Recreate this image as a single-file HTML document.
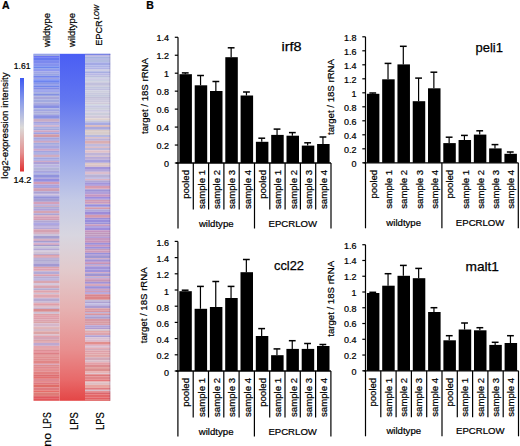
<!DOCTYPE html>
<html><head><meta charset="utf-8"><title>Figure</title>
<style>html,body{margin:0;padding:0;background:#fff;width:520px;height:446px;overflow:hidden}
svg{display:block;font-family:"Liberation Sans", sans-serif} text{stroke:#000;stroke-width:0.22px}</style></head>
<body><svg width="520" height="446" viewBox="0 0 520 446" font-family='"Liberation Sans", sans-serif'><defs><linearGradient id="cb" x1="0" y1="0" x2="0" y2="1"><stop offset="0" stop-color="#3c58f2"/><stop offset="0.25" stop-color="#8a9cea"/><stop offset="0.53" stop-color="#dcdad8"/><stop offset="0.8" stop-color="#e49090"/><stop offset="1" stop-color="#e03030"/></linearGradient><linearGradient id="hm2" x1="0" y1="0" x2="0" y2="1"><stop offset="0.0006" stop-color="#4a5ef4"/><stop offset="0.1331" stop-color="#6276f0"/><stop offset="0.2772" stop-color="#94a2ea"/><stop offset="0.4213" stop-color="#c4cae6"/><stop offset="0.5222" stop-color="#d8d6e0"/><stop offset="0.6231" stop-color="#e2cacc"/><stop offset="0.7383" stop-color="#e6b0b0"/><stop offset="0.8536" stop-color="#e88e8e"/><stop offset="0.9401" stop-color="#e86969"/><stop offset="1.0006" stop-color="#e44646"/></linearGradient><filter id="bl" x="0" y="0" width="1" height="1"><feGaussianBlur stdDeviation="0 0.6"/></filter></defs><rect width="520" height="446" fill="#fff"/><text x="2.00" y="9.30" font-size="10.5" font-weight="bold">A</text>
<text transform="translate(50.00,13.00) rotate(-90)" font-size="9.6" text-anchor="end" textLength="34.0" lengthAdjust="spacingAndGlyphs">wildtype</text>
<text transform="translate(75.30,13.00) rotate(-90)" font-size="9.6" text-anchor="end" textLength="34.0" lengthAdjust="spacingAndGlyphs">wildtype</text>
<text transform="translate(102.40,20.30) rotate(-90)" font-size="9.6" text-anchor="end" textLength="25.5" lengthAdjust="spacingAndGlyphs">EPCR</text>
<text transform="translate(99.40,5.00) rotate(-90)" font-size="7.0" text-anchor="end" textLength="14.6" lengthAdjust="spacingAndGlyphs" font-style="italic">LOW</text>
<text transform="translate(7.90,178.70) rotate(-90)" font-size="9.6" textLength="106.3" lengthAdjust="spacingAndGlyphs">log2-expression intensity</text>
<text x="13.80" y="68.80" font-size="9.2" textLength="16.7" lengthAdjust="spacingAndGlyphs">1.61</text>
<text x="13.60" y="182.80" font-size="9.2" textLength="17.7" lengthAdjust="spacingAndGlyphs">14.2</text>
<text transform="translate(50.80,412.30) rotate(-90)" font-size="10.3" text-anchor="end" textLength="16.1" lengthAdjust="spacingAndGlyphs">LPS</text>
<text transform="translate(50.80,432.90) rotate(-90)" font-size="10.3" text-anchor="end" textLength="13.8" lengthAdjust="spacingAndGlyphs">no</text>
<text transform="translate(77.70,412.20) rotate(-90)" font-size="10.3" text-anchor="end" textLength="17.7" lengthAdjust="spacingAndGlyphs">LPS</text>
<text transform="translate(104.30,412.20) rotate(-90)" font-size="10.3" text-anchor="end" textLength="17.7" lengthAdjust="spacingAndGlyphs">LPS</text>
<rect x="20.00" y="78.00" width="4.00" height="93.50" fill="url(#cb)"/>
<rect x="59.50" y="53.80" width="25.50" height="347.00" fill="url(#hm2)"/>
<g filter="url(#bl)">
<rect x="33.50" y="53.80" width="26.00" height="1.02" fill="#6676f7"/>
<rect x="33.50" y="54.80" width="26.00" height="3.02" fill="#6b75f4"/>
<rect x="33.50" y="57.80" width="26.00" height="3.02" fill="#6679ef"/>
<rect x="33.50" y="60.80" width="26.00" height="3.02" fill="#7b89ee"/>
<rect x="33.50" y="63.80" width="26.00" height="2.52" fill="#8592ee"/>
<rect x="33.50" y="66.30" width="26.00" height="2.02" fill="#6c86ee"/>
<rect x="33.50" y="68.30" width="26.00" height="1.02" fill="#8296e4"/>
<rect x="33.50" y="69.30" width="26.00" height="1.02" fill="#6f81ec"/>
<rect x="33.50" y="70.30" width="26.00" height="1.02" fill="#747dec"/>
<rect x="33.50" y="71.30" width="26.00" height="2.52" fill="#a0a6e5"/>
<rect x="33.50" y="73.80" width="26.00" height="2.02" fill="#98a4e3"/>
<rect x="33.50" y="75.80" width="26.00" height="2.02" fill="#7586ee"/>
<rect x="33.50" y="77.80" width="26.00" height="1.52" fill="#9ca2e2"/>
<rect x="33.50" y="79.30" width="26.00" height="1.52" fill="#6d85f4"/>
<rect x="33.50" y="80.80" width="26.00" height="2.02" fill="#6d84ef"/>
<rect x="33.50" y="82.80" width="26.00" height="2.02" fill="#8996e5"/>
<rect x="33.50" y="84.80" width="26.00" height="1.02" fill="#8d94eb"/>
<rect x="33.50" y="85.80" width="26.00" height="1.52" fill="#7088eb"/>
<rect x="33.50" y="87.30" width="26.00" height="2.02" fill="#848ce5"/>
<rect x="33.50" y="89.30" width="26.00" height="1.02" fill="#8890e2"/>
<rect x="33.50" y="90.30" width="26.00" height="1.52" fill="#8a94eb"/>
<rect x="33.50" y="91.80" width="26.00" height="1.02" fill="#a0a6e3"/>
<rect x="33.50" y="92.80" width="26.00" height="1.02" fill="#9fa8db"/>
<rect x="33.50" y="93.80" width="26.00" height="2.02" fill="#8390e2"/>
<rect x="33.50" y="95.80" width="26.00" height="1.02" fill="#b1b0da"/>
<rect x="33.50" y="96.80" width="26.00" height="2.52" fill="#a7a6da"/>
<rect x="33.50" y="99.30" width="26.00" height="3.02" fill="#a2aadf"/>
<rect x="33.50" y="102.30" width="26.00" height="2.02" fill="#aaaadc"/>
<rect x="33.50" y="104.30" width="26.00" height="1.52" fill="#898cdb"/>
<rect x="33.50" y="105.80" width="26.00" height="2.52" fill="#888fe3"/>
<rect x="33.50" y="108.30" width="26.00" height="2.02" fill="#a9afdf"/>
<rect x="33.50" y="110.30" width="26.00" height="1.02" fill="#838ada"/>
<rect x="33.50" y="111.30" width="26.00" height="2.02" fill="#adadda"/>
<rect x="33.50" y="113.30" width="26.00" height="1.52" fill="#a6acd9"/>
<rect x="33.50" y="114.80" width="26.00" height="1.02" fill="#8b8be1"/>
<rect x="33.50" y="115.80" width="26.00" height="3.02" fill="#8a92e1"/>
<rect x="33.50" y="118.80" width="26.00" height="3.02" fill="#c7abc4"/>
<rect x="33.50" y="121.80" width="26.00" height="2.02" fill="#a4a2e0"/>
<rect x="33.50" y="123.80" width="26.00" height="1.52" fill="#b3b1e1"/>
<rect x="33.50" y="125.30" width="26.00" height="1.52" fill="#cca7c5"/>
<rect x="33.50" y="126.80" width="26.00" height="2.02" fill="#a9afe0"/>
<rect x="33.50" y="128.80" width="26.00" height="1.52" fill="#a4a7db"/>
<rect x="33.50" y="130.30" width="26.00" height="2.02" fill="#cea6c3"/>
<rect x="33.50" y="132.30" width="26.00" height="2.02" fill="#9fa0e1"/>
<rect x="33.50" y="134.30" width="26.00" height="3.02" fill="#d099a6"/>
<rect x="33.50" y="137.30" width="26.00" height="2.52" fill="#a4a4dd"/>
<rect x="33.50" y="139.80" width="26.00" height="1.02" fill="#a6a0db"/>
<rect x="33.50" y="140.80" width="26.00" height="2.02" fill="#cda7c1"/>
<rect x="33.50" y="142.80" width="26.00" height="2.02" fill="#a1a9df"/>
<rect x="33.50" y="144.80" width="26.00" height="1.02" fill="#aaa3db"/>
<rect x="33.50" y="145.80" width="26.00" height="3.02" fill="#a5a6e0"/>
<rect x="33.50" y="148.80" width="26.00" height="2.02" fill="#cca5c8"/>
<rect x="33.50" y="150.80" width="26.00" height="2.02" fill="#a3a4df"/>
<rect x="33.50" y="152.80" width="26.00" height="1.02" fill="#a1a8df"/>
<rect x="33.50" y="153.80" width="26.00" height="1.02" fill="#a69fdb"/>
<rect x="33.50" y="154.80" width="26.00" height="2.52" fill="#cfacc0"/>
<rect x="33.50" y="157.30" width="26.00" height="2.02" fill="#a2a5df"/>
<rect x="33.50" y="159.30" width="26.00" height="1.52" fill="#9fa4e2"/>
<rect x="33.50" y="160.80" width="26.00" height="1.02" fill="#d09eb9"/>
<rect x="33.50" y="161.80" width="26.00" height="2.52" fill="#aea0d6"/>
<rect x="33.50" y="164.30" width="26.00" height="2.02" fill="#b8b5de"/>
<rect x="33.50" y="166.30" width="26.00" height="1.02" fill="#a89fe0"/>
<rect x="33.50" y="167.30" width="26.00" height="3.02" fill="#b2b4d8"/>
<rect x="33.50" y="170.30" width="26.00" height="2.02" fill="#a9a5db"/>
<rect x="33.50" y="172.30" width="26.00" height="1.02" fill="#9193e1"/>
<rect x="33.50" y="173.30" width="26.00" height="1.52" fill="#a4a7dc"/>
<rect x="33.50" y="174.80" width="26.00" height="3.02" fill="#9092dd"/>
<rect x="33.50" y="177.80" width="26.00" height="1.02" fill="#ada1d6"/>
<rect x="33.50" y="178.80" width="26.00" height="3.02" fill="#948fe1"/>
<rect x="33.50" y="181.80" width="26.00" height="2.52" fill="#d29cb6"/>
<rect x="33.50" y="184.30" width="26.00" height="2.02" fill="#ab9fd9"/>
<rect x="33.50" y="186.30" width="26.00" height="1.52" fill="#9091de"/>
<rect x="33.50" y="187.80" width="26.00" height="1.02" fill="#cc9bb6"/>
<rect x="33.50" y="188.80" width="26.00" height="2.52" fill="#ce9eb3"/>
<rect x="33.50" y="191.30" width="26.00" height="2.02" fill="#aba1d3"/>
<rect x="33.50" y="193.30" width="26.00" height="1.02" fill="#a89dd3"/>
<rect x="33.50" y="194.30" width="26.00" height="1.02" fill="#cabbd9"/>
<rect x="33.50" y="195.30" width="26.00" height="1.02" fill="#aca1d7"/>
<rect x="33.50" y="196.30" width="26.00" height="2.52" fill="#9593d9"/>
<rect x="33.50" y="198.80" width="26.00" height="3.02" fill="#a59ed2"/>
<rect x="33.50" y="201.80" width="26.00" height="2.52" fill="#d4a0ba"/>
<rect x="33.50" y="204.30" width="26.00" height="1.52" fill="#afa4d9"/>
<rect x="33.50" y="205.80" width="26.00" height="1.02" fill="#cd9eb1"/>
<rect x="33.50" y="206.80" width="26.00" height="2.02" fill="#adabd6"/>
<rect x="33.50" y="208.80" width="26.00" height="2.02" fill="#afa1d9"/>
<rect x="33.50" y="210.80" width="26.00" height="2.52" fill="#d5a4b3"/>
<rect x="33.50" y="213.30" width="26.00" height="2.02" fill="#aba3d4"/>
<rect x="33.50" y="215.30" width="26.00" height="1.02" fill="#d5a5b8"/>
<rect x="33.50" y="216.30" width="26.00" height="2.52" fill="#d49eb6"/>
<rect x="33.50" y="218.80" width="26.00" height="1.52" fill="#d29db3"/>
<rect x="33.50" y="220.30" width="26.00" height="2.02" fill="#b1a7d3"/>
<rect x="33.50" y="222.30" width="26.00" height="1.02" fill="#aa9fd6"/>
<rect x="33.50" y="223.30" width="26.00" height="1.52" fill="#9891df"/>
<rect x="33.50" y="224.80" width="26.00" height="1.52" fill="#b5aad8"/>
<rect x="33.50" y="226.30" width="26.00" height="1.02" fill="#b1a2d7"/>
<rect x="33.50" y="227.30" width="26.00" height="2.02" fill="#b5a7d6"/>
<rect x="33.50" y="229.30" width="26.00" height="3.02" fill="#d5a1b1"/>
<rect x="33.50" y="232.30" width="26.00" height="1.52" fill="#ce9fb4"/>
<rect x="33.50" y="233.80" width="26.00" height="2.02" fill="#cdc3d9"/>
<rect x="33.50" y="235.80" width="26.00" height="3.02" fill="#a49dcf"/>
<rect x="33.50" y="238.80" width="26.00" height="1.02" fill="#cfa5b9"/>
<rect x="33.50" y="239.80" width="26.00" height="1.02" fill="#d09eb8"/>
<rect x="33.50" y="240.80" width="26.00" height="1.52" fill="#a49dcf"/>
<rect x="33.50" y="242.30" width="26.00" height="1.02" fill="#b5a5d7"/>
<rect x="33.50" y="243.30" width="26.00" height="1.52" fill="#d39db9"/>
<rect x="33.50" y="244.80" width="26.00" height="1.52" fill="#a59acb"/>
<rect x="33.50" y="246.30" width="26.00" height="2.02" fill="#c8c4d6"/>
<rect x="33.50" y="248.30" width="26.00" height="2.02" fill="#b3a8d5"/>
<rect x="33.50" y="250.30" width="26.00" height="1.02" fill="#cbc0d8"/>
<rect x="33.50" y="251.30" width="26.00" height="2.52" fill="#cfc2d4"/>
<rect x="33.50" y="253.80" width="26.00" height="1.02" fill="#a59bcc"/>
<rect x="33.50" y="254.80" width="26.00" height="2.02" fill="#dca0ab"/>
<rect x="33.50" y="256.80" width="26.00" height="1.02" fill="#d2a0b2"/>
<rect x="33.50" y="257.80" width="26.00" height="1.02" fill="#b1a3d1"/>
<rect x="33.50" y="258.80" width="26.00" height="1.02" fill="#b0a8d1"/>
<rect x="33.50" y="259.80" width="26.00" height="2.02" fill="#b0aad2"/>
<rect x="33.50" y="261.80" width="26.00" height="1.02" fill="#b1a9d1"/>
<rect x="33.50" y="262.80" width="26.00" height="1.02" fill="#b7acd7"/>
<rect x="33.50" y="263.80" width="26.00" height="3.02" fill="#a299d2"/>
<rect x="33.50" y="266.80" width="26.00" height="1.52" fill="#daa2aa"/>
<rect x="33.50" y="268.30" width="26.00" height="2.02" fill="#db9fb2"/>
<rect x="33.50" y="270.30" width="26.00" height="1.02" fill="#d8a1ac"/>
<rect x="33.50" y="271.30" width="26.00" height="3.02" fill="#b3aad6"/>
<rect x="33.50" y="274.30" width="26.00" height="2.02" fill="#d99eaf"/>
<rect x="33.50" y="276.30" width="26.00" height="2.02" fill="#b8abd1"/>
<rect x="33.50" y="278.30" width="26.00" height="1.52" fill="#b3aad8"/>
<rect x="33.50" y="279.80" width="26.00" height="1.02" fill="#b9a8d6"/>
<rect x="33.50" y="280.80" width="26.00" height="2.52" fill="#d9a6b0"/>
<rect x="33.50" y="283.30" width="26.00" height="1.02" fill="#cabdd4"/>
<rect x="33.50" y="284.30" width="26.00" height="1.02" fill="#c9bad4"/>
<rect x="33.50" y="285.30" width="26.00" height="3.02" fill="#d7a4b1"/>
<rect x="33.50" y="288.30" width="26.00" height="2.02" fill="#b4acd0"/>
<rect x="33.50" y="290.30" width="26.00" height="2.52" fill="#dfa4ad"/>
<rect x="33.50" y="292.80" width="26.00" height="1.52" fill="#d0c0d4"/>
<rect x="33.50" y="294.30" width="26.00" height="3.02" fill="#dea6b0"/>
<rect x="33.50" y="297.30" width="26.00" height="1.02" fill="#daa2b0"/>
<rect x="33.50" y="298.30" width="26.00" height="3.02" fill="#b5a9d0"/>
<rect x="33.50" y="301.30" width="26.00" height="1.52" fill="#c1b1d0"/>
<rect x="33.50" y="302.80" width="26.00" height="1.02" fill="#e1a5b1"/>
<rect x="33.50" y="303.80" width="26.00" height="2.02" fill="#de9ea8"/>
<rect x="33.50" y="305.80" width="26.00" height="2.02" fill="#dbbec9"/>
<rect x="33.50" y="307.80" width="26.00" height="1.02" fill="#b8aad1"/>
<rect x="33.50" y="308.80" width="26.00" height="3.02" fill="#d98c8f"/>
<rect x="33.50" y="311.80" width="26.00" height="2.02" fill="#cdc0d4"/>
<rect x="33.50" y="313.80" width="26.00" height="2.02" fill="#de9fa6"/>
<rect x="33.50" y="315.80" width="26.00" height="2.02" fill="#e29fac"/>
<rect x="33.50" y="317.80" width="26.00" height="1.52" fill="#db9fab"/>
<rect x="33.50" y="319.30" width="26.00" height="2.52" fill="#dca2ae"/>
<rect x="33.50" y="321.80" width="26.00" height="1.52" fill="#daa5a6"/>
<rect x="33.50" y="323.30" width="26.00" height="3.02" fill="#d5b6ca"/>
<rect x="33.50" y="326.30" width="26.00" height="1.02" fill="#d9b7c3"/>
<rect x="33.50" y="327.30" width="26.00" height="1.52" fill="#dba3a6"/>
<rect x="33.50" y="328.80" width="26.00" height="2.52" fill="#d5b7c5"/>
<rect x="33.50" y="331.30" width="26.00" height="3.02" fill="#dca4a5"/>
<rect x="33.50" y="334.30" width="26.00" height="1.52" fill="#d6b9c9"/>
<rect x="33.50" y="335.80" width="26.00" height="1.02" fill="#e28f98"/>
<rect x="33.50" y="336.80" width="26.00" height="3.02" fill="#d4a5b7"/>
<rect x="33.50" y="339.80" width="26.00" height="2.02" fill="#daa2a8"/>
<rect x="33.50" y="341.80" width="26.00" height="1.02" fill="#e3a0a3"/>
<rect x="33.50" y="342.80" width="26.00" height="3.02" fill="#bda8d0"/>
<rect x="33.50" y="345.80" width="26.00" height="2.52" fill="#e3a4ac"/>
<rect x="33.50" y="348.30" width="26.00" height="1.02" fill="#de9093"/>
<rect x="33.50" y="349.30" width="26.00" height="2.02" fill="#dd8f95"/>
<rect x="33.50" y="351.30" width="26.00" height="1.02" fill="#e37e8b"/>
<rect x="33.50" y="352.30" width="26.00" height="2.52" fill="#dd8087"/>
<rect x="33.50" y="354.80" width="26.00" height="1.02" fill="#df8f8e"/>
<rect x="33.50" y="355.80" width="26.00" height="1.02" fill="#df8e91"/>
<rect x="33.50" y="356.80" width="26.00" height="2.02" fill="#e29091"/>
<rect x="33.50" y="358.80" width="26.00" height="2.02" fill="#df8d90"/>
<rect x="33.50" y="360.80" width="26.00" height="3.02" fill="#e18686"/>
<rect x="33.50" y="363.80" width="26.00" height="1.02" fill="#d5a1bb"/>
<rect x="33.50" y="364.80" width="26.00" height="2.02" fill="#dd8d8e"/>
<rect x="33.50" y="366.80" width="26.00" height="2.02" fill="#e1898f"/>
<rect x="33.50" y="368.80" width="26.00" height="1.02" fill="#e07f7e"/>
<rect x="33.50" y="369.80" width="26.00" height="2.02" fill="#e38e92"/>
<rect x="33.50" y="371.80" width="26.00" height="2.52" fill="#e28181"/>
<rect x="33.50" y="374.30" width="26.00" height="2.52" fill="#dd6e71"/>
<rect x="33.50" y="376.80" width="26.00" height="2.02" fill="#e27070"/>
<rect x="33.50" y="378.80" width="26.00" height="2.52" fill="#df8991"/>
<rect x="33.50" y="381.30" width="26.00" height="1.02" fill="#df6a6a"/>
<rect x="33.50" y="382.30" width="26.00" height="2.02" fill="#de777f"/>
<rect x="33.50" y="384.30" width="26.00" height="3.02" fill="#df6d68"/>
<rect x="33.50" y="387.30" width="26.00" height="3.02" fill="#de7a7e"/>
<rect x="33.50" y="390.30" width="26.00" height="2.02" fill="#e56d69"/>
<rect x="33.50" y="392.30" width="26.00" height="3.02" fill="#dd7c76"/>
<rect x="33.50" y="395.30" width="26.00" height="1.52" fill="#dc5959"/>
<rect x="33.50" y="396.80" width="26.00" height="2.02" fill="#e1585e"/>
<rect x="33.50" y="398.80" width="26.00" height="2.02" fill="#e2575a"/>
</g><g filter="url(#bl)">
<rect x="85.00" y="53.80" width="25.30" height="3.02" fill="#bab6e3"/>
<rect x="85.00" y="56.80" width="25.30" height="2.02" fill="#a8b3e1"/>
<rect x="85.00" y="58.80" width="25.30" height="1.02" fill="#a9ace0"/>
<rect x="85.00" y="59.80" width="25.30" height="2.52" fill="#b2bce1"/>
<rect x="85.00" y="62.30" width="25.30" height="3.02" fill="#a3a9e5"/>
<rect x="85.00" y="65.30" width="25.30" height="2.02" fill="#adb3e7"/>
<rect x="85.00" y="67.30" width="25.30" height="2.02" fill="#b0b3e6"/>
<rect x="85.00" y="69.30" width="25.30" height="1.02" fill="#c2c2de"/>
<rect x="85.00" y="70.30" width="25.30" height="1.02" fill="#c2c4dd"/>
<rect x="85.00" y="71.30" width="25.30" height="2.02" fill="#a7aee1"/>
<rect x="85.00" y="73.30" width="25.30" height="2.02" fill="#b9b8e5"/>
<rect x="85.00" y="75.30" width="25.30" height="2.02" fill="#bcbddf"/>
<rect x="85.00" y="77.30" width="25.30" height="1.02" fill="#bfc6dc"/>
<rect x="85.00" y="78.30" width="25.30" height="1.52" fill="#c7c4e1"/>
<rect x="85.00" y="79.80" width="25.30" height="1.02" fill="#bec5db"/>
<rect x="85.00" y="80.80" width="25.30" height="1.02" fill="#cccfdf"/>
<rect x="85.00" y="81.80" width="25.30" height="1.02" fill="#c8c6db"/>
<rect x="85.00" y="82.80" width="25.30" height="3.02" fill="#c1c0dc"/>
<rect x="85.00" y="85.80" width="25.30" height="1.02" fill="#cac9d8"/>
<rect x="85.00" y="86.80" width="25.30" height="2.02" fill="#c1c5df"/>
<rect x="85.00" y="88.80" width="25.30" height="1.52" fill="#c1c0df"/>
<rect x="85.00" y="90.30" width="25.30" height="2.52" fill="#cecfde"/>
<rect x="85.00" y="92.80" width="25.30" height="2.02" fill="#c9c9de"/>
<rect x="85.00" y="94.80" width="25.30" height="2.02" fill="#c4c8dd"/>
<rect x="85.00" y="96.80" width="25.30" height="2.02" fill="#c3c0d8"/>
<rect x="85.00" y="98.80" width="25.30" height="2.02" fill="#cbc8de"/>
<rect x="85.00" y="100.80" width="25.30" height="1.52" fill="#ccc9dd"/>
<rect x="85.00" y="102.30" width="25.30" height="2.02" fill="#d1cada"/>
<rect x="85.00" y="104.30" width="25.30" height="1.02" fill="#c8d0d9"/>
<rect x="85.00" y="105.30" width="25.30" height="2.52" fill="#c7c8e1"/>
<rect x="85.00" y="107.80" width="25.30" height="2.02" fill="#cccedc"/>
<rect x="85.00" y="109.80" width="25.30" height="2.02" fill="#cdcae1"/>
<rect x="85.00" y="111.80" width="25.30" height="1.02" fill="#d6cfde"/>
<rect x="85.00" y="112.80" width="25.30" height="2.52" fill="#cbcddb"/>
<rect x="85.00" y="115.30" width="25.30" height="3.02" fill="#d1c9da"/>
<rect x="85.00" y="118.30" width="25.30" height="2.02" fill="#ded0ce"/>
<rect x="85.00" y="120.30" width="25.30" height="2.02" fill="#c4c4d8"/>
<rect x="85.00" y="122.30" width="25.30" height="3.02" fill="#a7aae2"/>
<rect x="85.00" y="125.30" width="25.30" height="1.52" fill="#dbb0ad"/>
<rect x="85.00" y="126.80" width="25.30" height="3.02" fill="#aba9dc"/>
<rect x="85.00" y="129.80" width="25.30" height="2.02" fill="#d9cac6"/>
<rect x="85.00" y="131.80" width="25.30" height="3.02" fill="#d8ccca"/>
<rect x="85.00" y="134.80" width="25.30" height="1.52" fill="#b7b9db"/>
<rect x="85.00" y="136.30" width="25.30" height="1.02" fill="#a1a4de"/>
<rect x="85.00" y="137.30" width="25.30" height="1.02" fill="#d8b4b6"/>
<rect x="85.00" y="138.30" width="25.30" height="2.52" fill="#beb1d5"/>
<rect x="85.00" y="140.80" width="25.30" height="3.02" fill="#daaeb2"/>
<rect x="85.00" y="143.80" width="25.30" height="3.02" fill="#c0badc"/>
<rect x="85.00" y="146.80" width="25.30" height="1.02" fill="#dfb1b5"/>
<rect x="85.00" y="147.80" width="25.30" height="2.52" fill="#bcb7d9"/>
<rect x="85.00" y="150.30" width="25.30" height="2.52" fill="#e0c1c8"/>
<rect x="85.00" y="152.80" width="25.30" height="3.02" fill="#bfb4d8"/>
<rect x="85.00" y="155.80" width="25.30" height="1.02" fill="#dbc1c8"/>
<rect x="85.00" y="156.80" width="25.30" height="1.02" fill="#a598d4"/>
<rect x="85.00" y="157.80" width="25.30" height="2.02" fill="#bfafd7"/>
<rect x="85.00" y="159.80" width="25.30" height="3.02" fill="#a7a1de"/>
<rect x="85.00" y="162.80" width="25.30" height="2.02" fill="#dbc6c6"/>
<rect x="85.00" y="164.80" width="25.30" height="2.02" fill="#dbc2c5"/>
<rect x="85.00" y="166.80" width="25.30" height="3.02" fill="#a395da"/>
<rect x="85.00" y="169.80" width="25.30" height="2.02" fill="#b4a7d9"/>
<rect x="85.00" y="171.80" width="25.30" height="2.52" fill="#dbbece"/>
<rect x="85.00" y="174.30" width="25.30" height="3.02" fill="#b9b2d5"/>
<rect x="85.00" y="177.30" width="25.30" height="1.02" fill="#b0a9da"/>
<rect x="85.00" y="178.30" width="25.30" height="1.02" fill="#bab2d9"/>
<rect x="85.00" y="179.30" width="25.30" height="1.02" fill="#d49eb1"/>
<rect x="85.00" y="180.30" width="25.30" height="2.02" fill="#afa6d5"/>
<rect x="85.00" y="182.30" width="25.30" height="2.52" fill="#a295db"/>
<rect x="85.00" y="184.80" width="25.30" height="1.02" fill="#a291db"/>
<rect x="85.00" y="185.80" width="25.30" height="2.52" fill="#d59bb2"/>
<rect x="85.00" y="188.30" width="25.30" height="1.02" fill="#d59aaf"/>
<rect x="85.00" y="189.30" width="25.30" height="2.52" fill="#9c94d6"/>
<rect x="85.00" y="191.80" width="25.30" height="2.52" fill="#b19fd9"/>
<rect x="85.00" y="194.30" width="25.30" height="2.52" fill="#c595bf"/>
<rect x="85.00" y="196.80" width="25.30" height="2.02" fill="#9d8ddd"/>
<rect x="85.00" y="198.80" width="25.30" height="1.02" fill="#ac9dd9"/>
<rect x="85.00" y="199.80" width="25.30" height="2.02" fill="#d19bb2"/>
<rect x="85.00" y="201.80" width="25.30" height="1.52" fill="#c899c0"/>
<rect x="85.00" y="203.30" width="25.30" height="1.02" fill="#cc9db1"/>
<rect x="85.00" y="204.30" width="25.30" height="2.02" fill="#988edc"/>
<rect x="85.00" y="206.30" width="25.30" height="1.02" fill="#9891dd"/>
<rect x="85.00" y="207.30" width="25.30" height="2.02" fill="#d29bac"/>
<rect x="85.00" y="209.30" width="25.30" height="2.52" fill="#aea6da"/>
<rect x="85.00" y="211.80" width="25.30" height="3.02" fill="#9d8cd9"/>
<rect x="85.00" y="214.80" width="25.30" height="3.02" fill="#d49aaf"/>
<rect x="85.00" y="217.80" width="25.30" height="1.52" fill="#9d8ed7"/>
<rect x="85.00" y="219.30" width="25.30" height="3.02" fill="#988edc"/>
<rect x="85.00" y="222.30" width="25.30" height="2.02" fill="#9c92d7"/>
<rect x="85.00" y="224.30" width="25.30" height="2.02" fill="#c89abe"/>
<rect x="85.00" y="226.30" width="25.30" height="1.02" fill="#9a8bd4"/>
<rect x="85.00" y="227.30" width="25.30" height="3.02" fill="#9f8ddb"/>
<rect x="85.00" y="230.30" width="25.30" height="2.02" fill="#c595bf"/>
<rect x="85.00" y="232.30" width="25.30" height="2.02" fill="#bf97bb"/>
<rect x="85.00" y="234.30" width="25.30" height="2.52" fill="#c09bc0"/>
<rect x="85.00" y="236.80" width="25.30" height="1.02" fill="#9f8dd5"/>
<rect x="85.00" y="237.80" width="25.30" height="3.02" fill="#c698c0"/>
<rect x="85.00" y="240.80" width="25.30" height="2.02" fill="#c793ba"/>
<rect x="85.00" y="242.80" width="25.30" height="2.02" fill="#9b90dc"/>
<rect x="85.00" y="244.80" width="25.30" height="2.02" fill="#c796be"/>
<rect x="85.00" y="246.80" width="25.30" height="2.02" fill="#9d91dc"/>
<rect x="85.00" y="248.80" width="25.30" height="1.52" fill="#c39bbb"/>
<rect x="85.00" y="250.30" width="25.30" height="2.52" fill="#cc9ab9"/>
<rect x="85.00" y="252.80" width="25.30" height="1.52" fill="#9690dc"/>
<rect x="85.00" y="254.30" width="25.30" height="1.52" fill="#a490d1"/>
<rect x="85.00" y="255.80" width="25.30" height="2.52" fill="#9e97d2"/>
<rect x="85.00" y="258.30" width="25.30" height="1.02" fill="#c89cb8"/>
<rect x="85.00" y="259.30" width="25.30" height="2.52" fill="#a392d4"/>
<rect x="85.00" y="261.80" width="25.30" height="1.02" fill="#c793ba"/>
<rect x="85.00" y="262.80" width="25.30" height="1.52" fill="#c693b8"/>
<rect x="85.00" y="264.30" width="25.30" height="1.02" fill="#9b93d7"/>
<rect x="85.00" y="265.30" width="25.30" height="1.02" fill="#c897b8"/>
<rect x="85.00" y="266.30" width="25.30" height="3.02" fill="#a294d8"/>
<rect x="85.00" y="269.30" width="25.30" height="3.02" fill="#a194da"/>
<rect x="85.00" y="272.30" width="25.30" height="1.02" fill="#cd9bb8"/>
<rect x="85.00" y="273.30" width="25.30" height="3.02" fill="#9f94d1"/>
<rect x="85.00" y="276.30" width="25.30" height="1.02" fill="#ce9db4"/>
<rect x="85.00" y="277.30" width="25.30" height="1.02" fill="#a6a0d7"/>
<rect x="85.00" y="278.30" width="25.30" height="1.52" fill="#cb95b9"/>
<rect x="85.00" y="279.80" width="25.30" height="2.02" fill="#c597b4"/>
<rect x="85.00" y="281.80" width="25.30" height="2.02" fill="#a292d7"/>
<rect x="85.00" y="283.80" width="25.30" height="1.02" fill="#cf9eb8"/>
<rect x="85.00" y="284.80" width="25.30" height="1.02" fill="#db95a4"/>
<rect x="85.00" y="285.80" width="25.30" height="1.02" fill="#9c95d4"/>
<rect x="85.00" y="286.80" width="25.30" height="2.02" fill="#9e90d8"/>
<rect x="85.00" y="288.80" width="25.30" height="1.02" fill="#cf95af"/>
<rect x="85.00" y="289.80" width="25.30" height="1.02" fill="#ae9ad3"/>
<rect x="85.00" y="290.80" width="25.30" height="1.52" fill="#cf9cb8"/>
<rect x="85.00" y="292.30" width="25.30" height="1.02" fill="#a590d0"/>
<rect x="85.00" y="293.30" width="25.30" height="1.02" fill="#a798d7"/>
<rect x="85.00" y="294.30" width="25.30" height="2.52" fill="#d9858d"/>
<rect x="85.00" y="296.80" width="25.30" height="3.02" fill="#dc868a"/>
<rect x="85.00" y="299.80" width="25.30" height="1.52" fill="#c1bcdb"/>
<rect x="85.00" y="301.30" width="25.30" height="2.02" fill="#ada1d1"/>
<rect x="85.00" y="303.30" width="25.30" height="2.02" fill="#c1bce3"/>
<rect x="85.00" y="305.30" width="25.30" height="3.02" fill="#ab9cd1"/>
<rect x="85.00" y="308.30" width="25.30" height="2.52" fill="#db9ba2"/>
<rect x="85.00" y="310.80" width="25.30" height="1.52" fill="#d796a3"/>
<rect x="85.00" y="312.30" width="25.30" height="1.02" fill="#aca1d1"/>
<rect x="85.00" y="313.30" width="25.30" height="2.02" fill="#d7959f"/>
<rect x="85.00" y="315.30" width="25.30" height="1.02" fill="#b0a0d2"/>
<rect x="85.00" y="316.30" width="25.30" height="2.52" fill="#ab9ece"/>
<rect x="85.00" y="318.80" width="25.30" height="3.02" fill="#d898a3"/>
<rect x="85.00" y="321.80" width="25.30" height="2.02" fill="#d79ca3"/>
<rect x="85.00" y="323.80" width="25.30" height="1.52" fill="#d99ca8"/>
<rect x="85.00" y="325.30" width="25.30" height="2.02" fill="#b3a2d6"/>
<rect x="85.00" y="327.30" width="25.30" height="2.02" fill="#b19bce"/>
<rect x="85.00" y="329.30" width="25.30" height="2.02" fill="#d7c1ca"/>
<rect x="85.00" y="331.30" width="25.30" height="1.02" fill="#dd8f8e"/>
<rect x="85.00" y="332.30" width="25.30" height="3.02" fill="#dda4ad"/>
<rect x="85.00" y="335.30" width="25.30" height="2.02" fill="#b0a1d5"/>
<rect x="85.00" y="337.30" width="25.30" height="2.02" fill="#d9c0d2"/>
<rect x="85.00" y="339.30" width="25.30" height="2.52" fill="#dbbacc"/>
<rect x="85.00" y="341.80" width="25.30" height="2.52" fill="#e28e8d"/>
<rect x="85.00" y="344.30" width="25.30" height="1.02" fill="#e395a1"/>
<rect x="85.00" y="345.30" width="25.30" height="1.02" fill="#d2a4bd"/>
<rect x="85.00" y="346.30" width="25.30" height="1.52" fill="#d9b9cb"/>
<rect x="85.00" y="347.80" width="25.30" height="1.02" fill="#e39da7"/>
<rect x="85.00" y="348.80" width="25.30" height="1.52" fill="#d4abba"/>
<rect x="85.00" y="350.30" width="25.30" height="2.02" fill="#dea1a9"/>
<rect x="85.00" y="352.30" width="25.30" height="2.02" fill="#e1a3aa"/>
<rect x="85.00" y="354.30" width="25.30" height="2.02" fill="#dea5a6"/>
<rect x="85.00" y="356.30" width="25.30" height="1.02" fill="#e09090"/>
<rect x="85.00" y="357.30" width="25.30" height="3.02" fill="#d1a8b7"/>
<rect x="85.00" y="360.30" width="25.30" height="2.02" fill="#d9bbc6"/>
<rect x="85.00" y="362.30" width="25.30" height="2.52" fill="#e39fa7"/>
<rect x="85.00" y="364.80" width="25.30" height="2.52" fill="#dd8c90"/>
<rect x="85.00" y="367.30" width="25.30" height="1.52" fill="#dc8f8d"/>
<rect x="85.00" y="368.80" width="25.30" height="2.52" fill="#db8f8f"/>
<rect x="85.00" y="371.30" width="25.30" height="1.02" fill="#e5a6a8"/>
<rect x="85.00" y="372.30" width="25.30" height="1.02" fill="#dea1a1"/>
<rect x="85.00" y="373.30" width="25.30" height="1.02" fill="#dabbc7"/>
<rect x="85.00" y="374.30" width="25.30" height="2.02" fill="#de797b"/>
<rect x="85.00" y="376.30" width="25.30" height="3.02" fill="#e0878a"/>
<rect x="85.00" y="379.30" width="25.30" height="2.02" fill="#e5787c"/>
<rect x="85.00" y="381.30" width="25.30" height="1.02" fill="#e2a6a6"/>
<rect x="85.00" y="382.30" width="25.30" height="2.52" fill="#debec2"/>
<rect x="85.00" y="384.80" width="25.30" height="3.02" fill="#e8a5a0"/>
<rect x="85.00" y="387.80" width="25.30" height="2.02" fill="#e07c81"/>
<rect x="85.00" y="389.80" width="25.30" height="1.52" fill="#d7bec9"/>
<rect x="85.00" y="391.30" width="25.30" height="1.02" fill="#df696c"/>
<rect x="85.00" y="392.30" width="25.30" height="2.02" fill="#db656c"/>
<rect x="85.00" y="394.30" width="25.30" height="3.02" fill="#e46767"/>
<rect x="85.00" y="397.30" width="25.30" height="2.02" fill="#e35f63"/>
<rect x="85.00" y="399.30" width="25.30" height="1.52" fill="#dd5c5b"/>
</g>
<rect x="85.00" y="53.80" width="25.30" height="1.00" fill="#6a78e4"/>
<rect x="109.40" y="53.80" width="0.90" height="347.00" fill="rgba(60,40,110,0.22)"/>
<rect x="33.50" y="54.60" width="26.00" height="1.00" fill="#c4cfcc"/>
<text x="146.30" y="9.00" font-size="10.5" font-weight="bold">B</text>
<line x1="178.00" y1="37.28" x2="178.00" y2="163.60" stroke="#000" stroke-width="1.2"/>
<line x1="174.80" y1="163.00" x2="178.00" y2="163.00" stroke="#000" stroke-width="1.2"/>
<text x="169.00" y="167.20" font-size="9.0" text-anchor="end">0</text>
<line x1="174.80" y1="145.04" x2="178.00" y2="145.04" stroke="#000" stroke-width="1.2"/>
<text x="169.00" y="149.24" font-size="9.0" text-anchor="end">0.2</text>
<line x1="174.80" y1="127.08" x2="178.00" y2="127.08" stroke="#000" stroke-width="1.2"/>
<text x="169.00" y="131.28" font-size="9.0" text-anchor="end">0.4</text>
<line x1="174.80" y1="109.12" x2="178.00" y2="109.12" stroke="#000" stroke-width="1.2"/>
<text x="169.00" y="113.32" font-size="9.0" text-anchor="end">0.6</text>
<line x1="174.80" y1="91.16" x2="178.00" y2="91.16" stroke="#000" stroke-width="1.2"/>
<text x="169.00" y="95.36" font-size="9.0" text-anchor="end">0.8</text>
<line x1="174.80" y1="73.20" x2="178.00" y2="73.20" stroke="#000" stroke-width="1.2"/>
<text x="169.00" y="77.40" font-size="9.0" text-anchor="end">1</text>
<line x1="174.80" y1="55.24" x2="178.00" y2="55.24" stroke="#000" stroke-width="1.2"/>
<text x="169.00" y="59.44" font-size="9.0" text-anchor="end">1.2</text>
<line x1="174.80" y1="37.28" x2="178.00" y2="37.28" stroke="#000" stroke-width="1.2"/>
<text x="169.00" y="41.48" font-size="9.0" text-anchor="end">1.4</text>
<line x1="176.00" y1="163.00" x2="331.00" y2="163.00" stroke="#000" stroke-width="1.3"/>
<line x1="178.00" y1="163.00" x2="178.00" y2="228.50" stroke="#000" stroke-width="1.2"/>
<line x1="193.30" y1="163.00" x2="193.30" y2="209.50" stroke="#000" stroke-width="1.2"/>
<line x1="208.60" y1="163.00" x2="208.60" y2="209.50" stroke="#000" stroke-width="1.2"/>
<line x1="223.90" y1="163.00" x2="223.90" y2="209.50" stroke="#000" stroke-width="1.2"/>
<line x1="239.20" y1="163.00" x2="239.20" y2="209.50" stroke="#000" stroke-width="1.2"/>
<line x1="254.50" y1="163.00" x2="254.50" y2="228.50" stroke="#000" stroke-width="1.2"/>
<line x1="269.80" y1="163.00" x2="269.80" y2="209.50" stroke="#000" stroke-width="1.2"/>
<line x1="285.10" y1="163.00" x2="285.10" y2="209.50" stroke="#000" stroke-width="1.2"/>
<line x1="300.40" y1="163.00" x2="300.40" y2="209.50" stroke="#000" stroke-width="1.2"/>
<line x1="315.70" y1="163.00" x2="315.70" y2="209.50" stroke="#000" stroke-width="1.2"/>
<line x1="331.00" y1="163.00" x2="331.00" y2="228.50" stroke="#000" stroke-width="1.2"/>
<rect x="179.40" y="74.20" width="12.50" height="88.80" fill="#000"/>
<line x1="185.25" y1="72.90" x2="185.25" y2="74.20" stroke="#000" stroke-width="1.2"/>
<line x1="181.85" y1="72.90" x2="188.65" y2="72.90" stroke="#000" stroke-width="1.5"/>
<rect x="194.70" y="85.30" width="12.50" height="77.70" fill="#000"/>
<line x1="200.55" y1="75.50" x2="200.55" y2="85.30" stroke="#000" stroke-width="1.2"/>
<line x1="197.15" y1="75.50" x2="203.95" y2="75.50" stroke="#000" stroke-width="1.5"/>
<rect x="210.00" y="91.00" width="12.50" height="72.00" fill="#000"/>
<line x1="215.85" y1="81.50" x2="215.85" y2="91.00" stroke="#000" stroke-width="1.2"/>
<line x1="212.45" y1="81.50" x2="219.25" y2="81.50" stroke="#000" stroke-width="1.5"/>
<rect x="225.30" y="57.20" width="12.50" height="105.80" fill="#000"/>
<line x1="231.15" y1="47.80" x2="231.15" y2="57.20" stroke="#000" stroke-width="1.2"/>
<line x1="227.75" y1="47.80" x2="234.55" y2="47.80" stroke="#000" stroke-width="1.5"/>
<rect x="240.60" y="95.50" width="12.50" height="67.50" fill="#000"/>
<line x1="246.45" y1="92.00" x2="246.45" y2="95.50" stroke="#000" stroke-width="1.2"/>
<line x1="243.05" y1="92.00" x2="249.85" y2="92.00" stroke="#000" stroke-width="1.5"/>
<rect x="255.90" y="141.80" width="12.50" height="21.20" fill="#000"/>
<line x1="261.75" y1="138.20" x2="261.75" y2="141.80" stroke="#000" stroke-width="1.2"/>
<line x1="258.35" y1="138.20" x2="265.15" y2="138.20" stroke="#000" stroke-width="1.5"/>
<rect x="271.20" y="134.90" width="12.50" height="28.10" fill="#000"/>
<line x1="277.05" y1="129.10" x2="277.05" y2="134.90" stroke="#000" stroke-width="1.2"/>
<line x1="273.65" y1="129.10" x2="280.45" y2="129.10" stroke="#000" stroke-width="1.5"/>
<rect x="286.50" y="135.70" width="12.50" height="27.30" fill="#000"/>
<line x1="292.35" y1="132.60" x2="292.35" y2="135.70" stroke="#000" stroke-width="1.2"/>
<line x1="288.95" y1="132.60" x2="295.75" y2="132.60" stroke="#000" stroke-width="1.5"/>
<rect x="301.80" y="145.60" width="12.50" height="17.40" fill="#000"/>
<line x1="307.65" y1="142.80" x2="307.65" y2="145.60" stroke="#000" stroke-width="1.2"/>
<line x1="304.25" y1="142.80" x2="311.05" y2="142.80" stroke="#000" stroke-width="1.5"/>
<rect x="317.10" y="144.00" width="12.50" height="19.00" fill="#000"/>
<line x1="322.95" y1="137.00" x2="322.95" y2="144.00" stroke="#000" stroke-width="1.2"/>
<line x1="319.55" y1="137.00" x2="326.35" y2="137.00" stroke="#000" stroke-width="1.5"/>
<text transform="translate(189.40,170.00) rotate(-90)" font-size="9.6" text-anchor="end">pooled</text>
<text transform="translate(204.70,170.00) rotate(-90)" font-size="9.6" text-anchor="end">sample 1</text>
<text transform="translate(220.00,170.00) rotate(-90)" font-size="9.6" text-anchor="end">sample 2</text>
<text transform="translate(235.30,170.00) rotate(-90)" font-size="9.6" text-anchor="end">sample 3</text>
<text transform="translate(250.60,170.00) rotate(-90)" font-size="9.6" text-anchor="end">sample 4</text>
<text transform="translate(265.90,170.00) rotate(-90)" font-size="9.6" text-anchor="end">pooled</text>
<text transform="translate(281.20,170.00) rotate(-90)" font-size="9.6" text-anchor="end">sample 1</text>
<text transform="translate(296.50,170.00) rotate(-90)" font-size="9.6" text-anchor="end">sample 2</text>
<text transform="translate(311.80,170.00) rotate(-90)" font-size="9.6" text-anchor="end">sample 3</text>
<text transform="translate(327.10,170.00) rotate(-90)" font-size="9.6" text-anchor="end">sample 4</text>
<text x="216.25" y="226.50" font-size="9.6" text-anchor="middle">wildtype</text>
<text x="292.75" y="226.50" font-size="9.6" text-anchor="middle">EPCRLOW</text>
<text x="281.50" y="51.00" font-size="12.9" textLength="20.0" lengthAdjust="spacingAndGlyphs" style="stroke-width:0.25px">irf8</text>
<text transform="translate(148.40,134.00) rotate(-90)" font-size="9.6" textLength="76" lengthAdjust="spacingAndGlyphs">target / 18S rRNA</text>
<line x1="365.50" y1="36.80" x2="365.50" y2="163.40" stroke="#000" stroke-width="1.2"/>
<line x1="362.30" y1="162.80" x2="365.50" y2="162.80" stroke="#000" stroke-width="1.2"/>
<text x="356.50" y="167.30" font-size="9.0" text-anchor="end">0</text>
<line x1="362.30" y1="148.80" x2="365.50" y2="148.80" stroke="#000" stroke-width="1.2"/>
<text x="356.50" y="153.30" font-size="9.0" text-anchor="end">0.2</text>
<line x1="362.30" y1="134.80" x2="365.50" y2="134.80" stroke="#000" stroke-width="1.2"/>
<text x="356.50" y="139.30" font-size="9.0" text-anchor="end">0.4</text>
<line x1="362.30" y1="120.80" x2="365.50" y2="120.80" stroke="#000" stroke-width="1.2"/>
<text x="356.50" y="125.30" font-size="9.0" text-anchor="end">0.6</text>
<line x1="362.30" y1="106.80" x2="365.50" y2="106.80" stroke="#000" stroke-width="1.2"/>
<text x="356.50" y="111.30" font-size="9.0" text-anchor="end">0.8</text>
<line x1="362.30" y1="92.80" x2="365.50" y2="92.80" stroke="#000" stroke-width="1.2"/>
<text x="356.50" y="97.30" font-size="9.0" text-anchor="end">1</text>
<line x1="362.30" y1="78.80" x2="365.50" y2="78.80" stroke="#000" stroke-width="1.2"/>
<text x="356.50" y="83.30" font-size="9.0" text-anchor="end">1.2</text>
<line x1="362.30" y1="64.80" x2="365.50" y2="64.80" stroke="#000" stroke-width="1.2"/>
<text x="356.50" y="69.30" font-size="9.0" text-anchor="end">1.4</text>
<line x1="362.30" y1="50.80" x2="365.50" y2="50.80" stroke="#000" stroke-width="1.2"/>
<text x="356.50" y="55.30" font-size="9.0" text-anchor="end">1.6</text>
<line x1="362.30" y1="36.80" x2="365.50" y2="36.80" stroke="#000" stroke-width="1.2"/>
<text x="356.50" y="41.30" font-size="9.0" text-anchor="end">1.8</text>
<line x1="363.50" y1="162.80" x2="518.30" y2="162.80" stroke="#000" stroke-width="1.3"/>
<line x1="365.50" y1="162.80" x2="365.50" y2="228.30" stroke="#000" stroke-width="1.2"/>
<line x1="441.90" y1="162.80" x2="441.90" y2="228.30" stroke="#000" stroke-width="1.2"/>
<line x1="518.30" y1="162.80" x2="518.30" y2="228.30" stroke="#000" stroke-width="1.2"/>
<rect x="366.89" y="93.80" width="12.50" height="69.00" fill="#000"/>
<line x1="372.74" y1="93.00" x2="372.74" y2="93.80" stroke="#000" stroke-width="1.2"/>
<line x1="369.34" y1="93.00" x2="376.14" y2="93.00" stroke="#000" stroke-width="1.5"/>
<rect x="382.17" y="79.30" width="12.50" height="83.50" fill="#000"/>
<line x1="388.02" y1="63.40" x2="388.02" y2="79.30" stroke="#000" stroke-width="1.2"/>
<line x1="384.62" y1="63.40" x2="391.42" y2="63.40" stroke="#000" stroke-width="1.5"/>
<rect x="397.45" y="64.40" width="12.50" height="98.40" fill="#000"/>
<line x1="403.30" y1="46.30" x2="403.30" y2="64.40" stroke="#000" stroke-width="1.2"/>
<line x1="399.90" y1="46.30" x2="406.70" y2="46.30" stroke="#000" stroke-width="1.5"/>
<rect x="412.73" y="101.20" width="12.50" height="61.60" fill="#000"/>
<line x1="418.58" y1="78.10" x2="418.58" y2="101.20" stroke="#000" stroke-width="1.2"/>
<line x1="415.18" y1="78.10" x2="421.98" y2="78.10" stroke="#000" stroke-width="1.5"/>
<rect x="428.01" y="88.30" width="12.50" height="74.50" fill="#000"/>
<line x1="433.86" y1="72.20" x2="433.86" y2="88.30" stroke="#000" stroke-width="1.2"/>
<line x1="430.46" y1="72.20" x2="437.26" y2="72.20" stroke="#000" stroke-width="1.5"/>
<rect x="443.29" y="143.10" width="12.50" height="19.70" fill="#000"/>
<line x1="449.14" y1="137.20" x2="449.14" y2="143.10" stroke="#000" stroke-width="1.2"/>
<line x1="445.74" y1="137.20" x2="452.54" y2="137.20" stroke="#000" stroke-width="1.5"/>
<rect x="458.57" y="140.00" width="12.50" height="22.80" fill="#000"/>
<line x1="464.42" y1="135.40" x2="464.42" y2="140.00" stroke="#000" stroke-width="1.2"/>
<line x1="461.02" y1="135.40" x2="467.82" y2="135.40" stroke="#000" stroke-width="1.5"/>
<rect x="473.85" y="134.60" width="12.50" height="28.20" fill="#000"/>
<line x1="479.70" y1="130.80" x2="479.70" y2="134.60" stroke="#000" stroke-width="1.2"/>
<line x1="476.30" y1="130.80" x2="483.10" y2="130.80" stroke="#000" stroke-width="1.5"/>
<rect x="489.13" y="148.40" width="12.50" height="14.40" fill="#000"/>
<line x1="494.98" y1="144.60" x2="494.98" y2="148.40" stroke="#000" stroke-width="1.2"/>
<line x1="491.58" y1="144.60" x2="498.38" y2="144.60" stroke="#000" stroke-width="1.5"/>
<rect x="504.41" y="153.80" width="12.50" height="9.00" fill="#000"/>
<line x1="510.26" y1="152.00" x2="510.26" y2="153.80" stroke="#000" stroke-width="1.2"/>
<line x1="506.86" y1="152.00" x2="513.66" y2="152.00" stroke="#000" stroke-width="1.5"/>
<text transform="translate(376.90,169.80) rotate(-90)" font-size="9.6" text-anchor="end">pooled</text>
<text transform="translate(392.18,169.80) rotate(-90)" font-size="9.6" text-anchor="end">sample 1</text>
<text transform="translate(407.46,169.80) rotate(-90)" font-size="9.6" text-anchor="end">sample 2</text>
<text transform="translate(422.74,169.80) rotate(-90)" font-size="9.6" text-anchor="end">sample 3</text>
<text transform="translate(438.02,169.80) rotate(-90)" font-size="9.6" text-anchor="end">sample 4</text>
<text transform="translate(453.30,169.80) rotate(-90)" font-size="9.6" text-anchor="end">pooled</text>
<text transform="translate(468.58,169.80) rotate(-90)" font-size="9.6" text-anchor="end">sample 1</text>
<text transform="translate(483.86,169.80) rotate(-90)" font-size="9.6" text-anchor="end">sample 2</text>
<text transform="translate(499.14,169.80) rotate(-90)" font-size="9.6" text-anchor="end">sample 3</text>
<text transform="translate(514.42,169.80) rotate(-90)" font-size="9.6" text-anchor="end">sample 4</text>
<text x="403.70" y="226.30" font-size="9.6" text-anchor="middle">wildtype</text>
<text x="480.10" y="226.30" font-size="9.6" text-anchor="middle">EPCRLOW</text>
<text x="475.50" y="51.50" font-size="12.9" textLength="27.5" lengthAdjust="spacingAndGlyphs" style="stroke-width:0.25px">peli1</text>
<text transform="translate(334.00,135.00) rotate(-90)" font-size="9.6" textLength="76" lengthAdjust="spacingAndGlyphs">target / 18S rRNA</text>
<line x1="177.90" y1="241.40" x2="177.90" y2="371.60" stroke="#000" stroke-width="1.2"/>
<line x1="174.70" y1="371.00" x2="177.90" y2="371.00" stroke="#000" stroke-width="1.2"/>
<text x="168.90" y="375.50" font-size="9.0" text-anchor="end">0</text>
<line x1="174.70" y1="354.80" x2="177.90" y2="354.80" stroke="#000" stroke-width="1.2"/>
<text x="168.90" y="359.30" font-size="9.0" text-anchor="end">0.2</text>
<line x1="174.70" y1="338.60" x2="177.90" y2="338.60" stroke="#000" stroke-width="1.2"/>
<text x="168.90" y="343.10" font-size="9.0" text-anchor="end">0.4</text>
<line x1="174.70" y1="322.40" x2="177.90" y2="322.40" stroke="#000" stroke-width="1.2"/>
<text x="168.90" y="326.90" font-size="9.0" text-anchor="end">0.6</text>
<line x1="174.70" y1="306.20" x2="177.90" y2="306.20" stroke="#000" stroke-width="1.2"/>
<text x="168.90" y="310.70" font-size="9.0" text-anchor="end">0.8</text>
<line x1="174.70" y1="290.00" x2="177.90" y2="290.00" stroke="#000" stroke-width="1.2"/>
<text x="168.90" y="294.50" font-size="9.0" text-anchor="end">1</text>
<line x1="174.70" y1="273.80" x2="177.90" y2="273.80" stroke="#000" stroke-width="1.2"/>
<text x="168.90" y="278.30" font-size="9.0" text-anchor="end">1.2</text>
<line x1="174.70" y1="257.60" x2="177.90" y2="257.60" stroke="#000" stroke-width="1.2"/>
<text x="168.90" y="262.10" font-size="9.0" text-anchor="end">1.4</text>
<line x1="174.70" y1="241.40" x2="177.90" y2="241.40" stroke="#000" stroke-width="1.2"/>
<text x="168.90" y="245.90" font-size="9.0" text-anchor="end">1.6</text>
<line x1="175.90" y1="371.00" x2="330.90" y2="371.00" stroke="#000" stroke-width="1.3"/>
<line x1="177.90" y1="371.00" x2="177.90" y2="436.50" stroke="#000" stroke-width="1.2"/>
<line x1="193.20" y1="371.00" x2="193.20" y2="417.50" stroke="#000" stroke-width="1.2"/>
<line x1="208.50" y1="371.00" x2="208.50" y2="417.50" stroke="#000" stroke-width="1.2"/>
<line x1="223.80" y1="371.00" x2="223.80" y2="417.50" stroke="#000" stroke-width="1.2"/>
<line x1="239.10" y1="371.00" x2="239.10" y2="417.50" stroke="#000" stroke-width="1.2"/>
<line x1="254.40" y1="371.00" x2="254.40" y2="436.50" stroke="#000" stroke-width="1.2"/>
<line x1="269.70" y1="371.00" x2="269.70" y2="417.50" stroke="#000" stroke-width="1.2"/>
<line x1="285.00" y1="371.00" x2="285.00" y2="417.50" stroke="#000" stroke-width="1.2"/>
<line x1="300.30" y1="371.00" x2="300.30" y2="417.50" stroke="#000" stroke-width="1.2"/>
<line x1="315.60" y1="371.00" x2="315.60" y2="417.50" stroke="#000" stroke-width="1.2"/>
<line x1="330.90" y1="371.00" x2="330.90" y2="436.50" stroke="#000" stroke-width="1.2"/>
<rect x="179.30" y="291.20" width="12.50" height="79.80" fill="#000"/>
<line x1="185.15" y1="290.20" x2="185.15" y2="291.20" stroke="#000" stroke-width="1.2"/>
<line x1="181.75" y1="290.20" x2="188.55" y2="290.20" stroke="#000" stroke-width="1.5"/>
<rect x="194.60" y="308.80" width="12.50" height="62.20" fill="#000"/>
<line x1="200.45" y1="286.40" x2="200.45" y2="308.80" stroke="#000" stroke-width="1.2"/>
<line x1="197.05" y1="286.40" x2="203.85" y2="286.40" stroke="#000" stroke-width="1.5"/>
<rect x="209.90" y="307.00" width="12.50" height="64.00" fill="#000"/>
<line x1="215.75" y1="281.50" x2="215.75" y2="307.00" stroke="#000" stroke-width="1.2"/>
<line x1="212.35" y1="281.50" x2="219.15" y2="281.50" stroke="#000" stroke-width="1.5"/>
<rect x="225.20" y="298.00" width="12.50" height="73.00" fill="#000"/>
<line x1="231.05" y1="286.40" x2="231.05" y2="298.00" stroke="#000" stroke-width="1.2"/>
<line x1="227.65" y1="286.40" x2="234.45" y2="286.40" stroke="#000" stroke-width="1.5"/>
<rect x="240.50" y="272.20" width="12.50" height="98.80" fill="#000"/>
<line x1="246.35" y1="259.50" x2="246.35" y2="272.20" stroke="#000" stroke-width="1.2"/>
<line x1="242.95" y1="259.50" x2="249.75" y2="259.50" stroke="#000" stroke-width="1.5"/>
<rect x="255.80" y="336.00" width="12.50" height="35.00" fill="#000"/>
<line x1="261.65" y1="328.60" x2="261.65" y2="336.00" stroke="#000" stroke-width="1.2"/>
<line x1="258.25" y1="328.60" x2="265.05" y2="328.60" stroke="#000" stroke-width="1.5"/>
<rect x="271.10" y="355.20" width="12.50" height="15.80" fill="#000"/>
<line x1="276.95" y1="348.90" x2="276.95" y2="355.20" stroke="#000" stroke-width="1.2"/>
<line x1="273.55" y1="348.90" x2="280.35" y2="348.90" stroke="#000" stroke-width="1.5"/>
<rect x="286.40" y="348.90" width="12.50" height="22.10" fill="#000"/>
<line x1="292.25" y1="340.70" x2="292.25" y2="348.90" stroke="#000" stroke-width="1.2"/>
<line x1="288.85" y1="340.70" x2="295.65" y2="340.70" stroke="#000" stroke-width="1.5"/>
<rect x="301.70" y="348.90" width="12.50" height="22.10" fill="#000"/>
<line x1="307.55" y1="343.50" x2="307.55" y2="348.90" stroke="#000" stroke-width="1.2"/>
<line x1="304.15" y1="343.50" x2="310.95" y2="343.50" stroke="#000" stroke-width="1.5"/>
<rect x="317.00" y="346.00" width="12.50" height="25.00" fill="#000"/>
<line x1="322.85" y1="344.50" x2="322.85" y2="346.00" stroke="#000" stroke-width="1.2"/>
<line x1="319.45" y1="344.50" x2="326.25" y2="344.50" stroke="#000" stroke-width="1.5"/>
<text transform="translate(189.40,378.00) rotate(-90)" font-size="9.6" text-anchor="end">pooled</text>
<text transform="translate(204.70,378.00) rotate(-90)" font-size="9.6" text-anchor="end">sample 1</text>
<text transform="translate(220.00,378.00) rotate(-90)" font-size="9.6" text-anchor="end">sample 2</text>
<text transform="translate(235.30,378.00) rotate(-90)" font-size="9.6" text-anchor="end">sample 3</text>
<text transform="translate(250.60,378.00) rotate(-90)" font-size="9.6" text-anchor="end">sample 4</text>
<text transform="translate(265.90,378.00) rotate(-90)" font-size="9.6" text-anchor="end">pooled</text>
<text transform="translate(281.20,378.00) rotate(-90)" font-size="9.6" text-anchor="end">sample 1</text>
<text transform="translate(296.50,378.00) rotate(-90)" font-size="9.6" text-anchor="end">sample 2</text>
<text transform="translate(311.80,378.00) rotate(-90)" font-size="9.6" text-anchor="end">sample 3</text>
<text transform="translate(327.10,378.00) rotate(-90)" font-size="9.6" text-anchor="end">sample 4</text>
<text x="216.15" y="434.50" font-size="9.6" text-anchor="middle">wildtype</text>
<text x="292.65" y="434.50" font-size="9.6" text-anchor="middle">EPCRLOW</text>
<text x="274.00" y="270.00" font-size="12.9" textLength="30.0" lengthAdjust="spacingAndGlyphs" style="stroke-width:0.25px">ccl22</text>
<text transform="translate(146.90,343.30) rotate(-90)" font-size="9.6" textLength="76" lengthAdjust="spacingAndGlyphs">target / 18S rRNA</text>
<line x1="365.50" y1="244.72" x2="365.50" y2="371.40" stroke="#000" stroke-width="1.2"/>
<line x1="362.30" y1="370.80" x2="365.50" y2="370.80" stroke="#000" stroke-width="1.2"/>
<text x="356.50" y="374.60" font-size="9.0" text-anchor="end">0</text>
<line x1="362.30" y1="355.04" x2="365.50" y2="355.04" stroke="#000" stroke-width="1.2"/>
<text x="356.50" y="358.84" font-size="9.0" text-anchor="end">0.2</text>
<line x1="362.30" y1="339.28" x2="365.50" y2="339.28" stroke="#000" stroke-width="1.2"/>
<text x="356.50" y="343.08" font-size="9.0" text-anchor="end">0.4</text>
<line x1="362.30" y1="323.52" x2="365.50" y2="323.52" stroke="#000" stroke-width="1.2"/>
<text x="356.50" y="327.32" font-size="9.0" text-anchor="end">0.6</text>
<line x1="362.30" y1="307.76" x2="365.50" y2="307.76" stroke="#000" stroke-width="1.2"/>
<text x="356.50" y="311.56" font-size="9.0" text-anchor="end">0.8</text>
<line x1="362.30" y1="292.00" x2="365.50" y2="292.00" stroke="#000" stroke-width="1.2"/>
<text x="356.50" y="295.80" font-size="9.0" text-anchor="end">1</text>
<line x1="362.30" y1="276.24" x2="365.50" y2="276.24" stroke="#000" stroke-width="1.2"/>
<text x="356.50" y="280.04" font-size="9.0" text-anchor="end">1.2</text>
<line x1="362.30" y1="260.48" x2="365.50" y2="260.48" stroke="#000" stroke-width="1.2"/>
<text x="356.50" y="264.28" font-size="9.0" text-anchor="end">1.4</text>
<line x1="362.30" y1="244.72" x2="365.50" y2="244.72" stroke="#000" stroke-width="1.2"/>
<text x="356.50" y="248.52" font-size="9.0" text-anchor="end">1.6</text>
<line x1="363.50" y1="370.80" x2="518.50" y2="370.80" stroke="#000" stroke-width="1.3"/>
<line x1="365.50" y1="370.80" x2="365.50" y2="436.30" stroke="#000" stroke-width="1.2"/>
<line x1="380.80" y1="370.80" x2="380.80" y2="417.30" stroke="#000" stroke-width="1.2"/>
<line x1="396.10" y1="370.80" x2="396.10" y2="417.30" stroke="#000" stroke-width="1.2"/>
<line x1="411.40" y1="370.80" x2="411.40" y2="417.30" stroke="#000" stroke-width="1.2"/>
<line x1="426.70" y1="370.80" x2="426.70" y2="417.30" stroke="#000" stroke-width="1.2"/>
<line x1="442.00" y1="370.80" x2="442.00" y2="436.30" stroke="#000" stroke-width="1.2"/>
<line x1="457.30" y1="370.80" x2="457.30" y2="417.30" stroke="#000" stroke-width="1.2"/>
<line x1="472.60" y1="370.80" x2="472.60" y2="417.30" stroke="#000" stroke-width="1.2"/>
<line x1="487.90" y1="370.80" x2="487.90" y2="417.30" stroke="#000" stroke-width="1.2"/>
<line x1="503.20" y1="370.80" x2="503.20" y2="417.30" stroke="#000" stroke-width="1.2"/>
<line x1="518.50" y1="370.80" x2="518.50" y2="436.30" stroke="#000" stroke-width="1.2"/>
<rect x="366.90" y="293.00" width="12.50" height="77.80" fill="#000"/>
<line x1="372.75" y1="292.30" x2="372.75" y2="293.00" stroke="#000" stroke-width="1.2"/>
<line x1="369.35" y1="292.30" x2="376.15" y2="292.30" stroke="#000" stroke-width="1.5"/>
<rect x="382.20" y="285.70" width="12.50" height="85.10" fill="#000"/>
<line x1="388.05" y1="273.70" x2="388.05" y2="285.70" stroke="#000" stroke-width="1.2"/>
<line x1="384.65" y1="273.70" x2="391.45" y2="273.70" stroke="#000" stroke-width="1.5"/>
<rect x="397.50" y="275.80" width="12.50" height="95.00" fill="#000"/>
<line x1="403.35" y1="265.40" x2="403.35" y2="275.80" stroke="#000" stroke-width="1.2"/>
<line x1="399.95" y1="265.40" x2="406.75" y2="265.40" stroke="#000" stroke-width="1.5"/>
<rect x="412.80" y="278.20" width="12.50" height="92.60" fill="#000"/>
<line x1="418.65" y1="268.40" x2="418.65" y2="278.20" stroke="#000" stroke-width="1.2"/>
<line x1="415.25" y1="268.40" x2="422.05" y2="268.40" stroke="#000" stroke-width="1.5"/>
<rect x="428.10" y="312.00" width="12.50" height="58.80" fill="#000"/>
<line x1="433.95" y1="307.70" x2="433.95" y2="312.00" stroke="#000" stroke-width="1.2"/>
<line x1="430.55" y1="307.70" x2="437.35" y2="307.70" stroke="#000" stroke-width="1.5"/>
<rect x="443.40" y="340.30" width="12.50" height="30.50" fill="#000"/>
<line x1="449.25" y1="335.70" x2="449.25" y2="340.30" stroke="#000" stroke-width="1.2"/>
<line x1="445.85" y1="335.70" x2="452.65" y2="335.70" stroke="#000" stroke-width="1.5"/>
<rect x="458.70" y="329.50" width="12.50" height="41.30" fill="#000"/>
<line x1="464.55" y1="323.00" x2="464.55" y2="329.50" stroke="#000" stroke-width="1.2"/>
<line x1="461.15" y1="323.00" x2="467.95" y2="323.00" stroke="#000" stroke-width="1.5"/>
<rect x="474.00" y="330.30" width="12.50" height="40.50" fill="#000"/>
<line x1="479.85" y1="327.70" x2="479.85" y2="330.30" stroke="#000" stroke-width="1.2"/>
<line x1="476.45" y1="327.70" x2="483.25" y2="327.70" stroke="#000" stroke-width="1.5"/>
<rect x="489.30" y="344.90" width="12.50" height="25.90" fill="#000"/>
<line x1="495.15" y1="342.30" x2="495.15" y2="344.90" stroke="#000" stroke-width="1.2"/>
<line x1="491.75" y1="342.30" x2="498.55" y2="342.30" stroke="#000" stroke-width="1.5"/>
<rect x="504.60" y="343.00" width="12.50" height="27.80" fill="#000"/>
<line x1="510.45" y1="335.70" x2="510.45" y2="343.00" stroke="#000" stroke-width="1.2"/>
<line x1="507.05" y1="335.70" x2="513.85" y2="335.70" stroke="#000" stroke-width="1.5"/>
<text transform="translate(376.40,377.80) rotate(-90)" font-size="9.6" text-anchor="end">pooled</text>
<text transform="translate(391.70,377.80) rotate(-90)" font-size="9.6" text-anchor="end">sample 1</text>
<text transform="translate(407.00,377.80) rotate(-90)" font-size="9.6" text-anchor="end">sample 2</text>
<text transform="translate(422.30,377.80) rotate(-90)" font-size="9.6" text-anchor="end">sample 3</text>
<text transform="translate(437.60,377.80) rotate(-90)" font-size="9.6" text-anchor="end">sample 4</text>
<text transform="translate(452.90,377.80) rotate(-90)" font-size="9.6" text-anchor="end">pooled</text>
<text transform="translate(468.20,377.80) rotate(-90)" font-size="9.6" text-anchor="end">sample 1</text>
<text transform="translate(483.50,377.80) rotate(-90)" font-size="9.6" text-anchor="end">sample 2</text>
<text transform="translate(498.80,377.80) rotate(-90)" font-size="9.6" text-anchor="end">sample 3</text>
<text transform="translate(514.10,377.80) rotate(-90)" font-size="9.6" text-anchor="end">sample 4</text>
<text x="403.75" y="434.30" font-size="9.6" text-anchor="middle">wildtype</text>
<text x="480.25" y="434.30" font-size="9.6" text-anchor="middle">EPCRLOW</text>
<text x="465.50" y="271.00" font-size="12.9" textLength="33.5" lengthAdjust="spacingAndGlyphs" style="stroke-width:0.25px">malt1</text>
<text transform="translate(334.30,336.80) rotate(-90)" font-size="9.6" textLength="76" lengthAdjust="spacingAndGlyphs">target / 18S rRNA</text></svg></body></html>
